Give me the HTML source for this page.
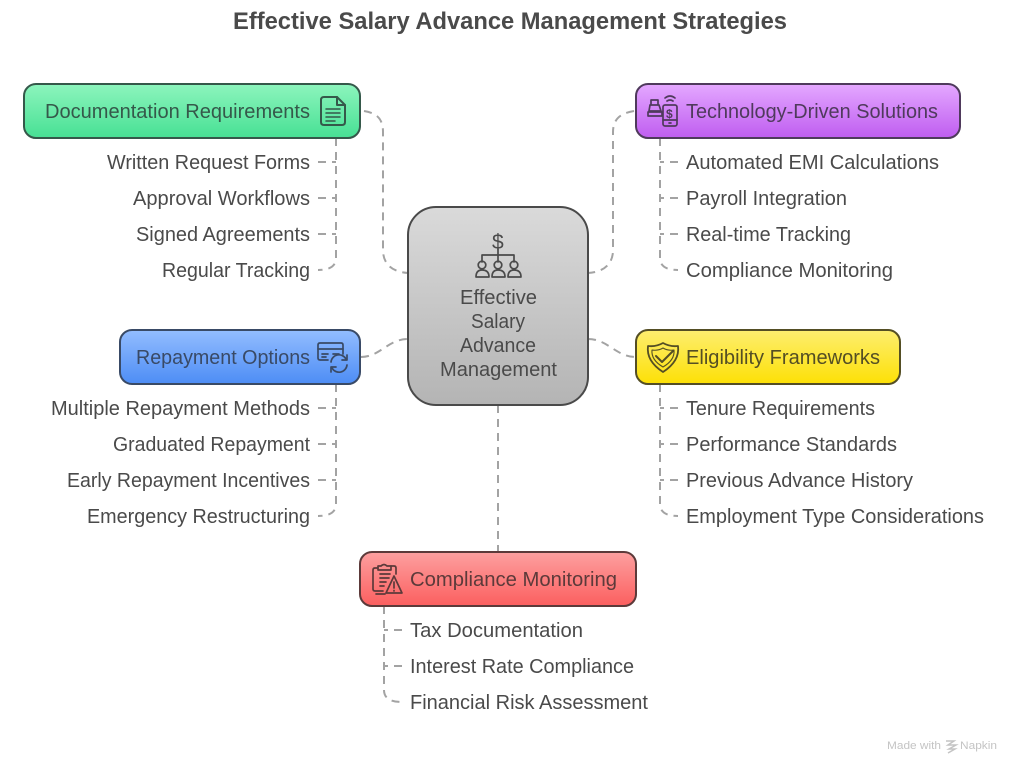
<!DOCTYPE html>
<html>
<head>
<meta charset="utf-8">
<style>
html,body{margin:0;padding:0;background:#fff;width:1020px;height:772px;overflow:hidden}
svg{display:block}
text{font-family:"Liberation Sans",sans-serif;font-size:20px;fill:#4a4a4a}
.c{fill:none;stroke:#a3a3a3;stroke-width:2;stroke-dasharray:8 6}
.i{fill:none;stroke-width:2;stroke-linejoin:round;stroke-linecap:round}
</style>
</head>
<body>
<svg width="1020" height="772" viewBox="0 0 1020 772" xmlns="http://www.w3.org/2000/svg">
<defs>
<linearGradient id="gg" x1="0" y1="0" x2="0" y2="1"><stop offset="0" stop-color="#8df5bd"/><stop offset="1" stop-color="#47e094"/></linearGradient>
<linearGradient id="gp" x1="0" y1="0" x2="0" y2="1"><stop offset="0" stop-color="#e4a8ff"/><stop offset="1" stop-color="#bf5df0"/></linearGradient>
<linearGradient id="gb" x1="0" y1="0" x2="0" y2="1"><stop offset="0" stop-color="#93bdff"/><stop offset="1" stop-color="#4d8df5"/></linearGradient>
<linearGradient id="gy" x1="0" y1="0" x2="0" y2="1"><stop offset="0" stop-color="#fdee70"/><stop offset="1" stop-color="#fde005"/></linearGradient>
<linearGradient id="gr" x1="0" y1="0" x2="0" y2="1"><stop offset="0" stop-color="#fda0a0"/><stop offset="1" stop-color="#fb5f5f"/></linearGradient>
<linearGradient id="gc" x1="0" y1="0" x2="0" y2="1"><stop offset="0" stop-color="#dadada"/><stop offset="1" stop-color="#b4b4b4"/></linearGradient>
</defs>

<text x="233" y="29" font-weight="700" style="font-size:24px;font-weight:700" textLength="554" lengthAdjust="spacingAndGlyphs">Effective Salary Advance Management Strategies</text>

<!-- center connectors -->
<path class="c" d="M364 111 C376 113 383 118 383 132 V250 C383 264 392 272 408 273"/>
<path class="c" d="M634 111 C622 113 613 118 613 132 V250 C613 264 604 272 588 273"/>
<path class="c" d="M361 357 C380 357 388 339 408 339"/>
<path class="c" d="M588 339 C608 339 616 357 636 357"/>
<path class="c" d="M498 405 V552"/>

<!-- branch connectors -->
<path class="c" d="M336 138 V258 Q336 270 318 270"/>
<path class="c" d="M318 162 H336 M318 198 H336 M318 234 H336"/>
<path class="c" d="M660 138 V258 Q660 270 678 270"/>
<path class="c" d="M678 162 H660 M678 198 H660 M678 234 H660"/>
<path class="c" d="M336 384 V504 Q336 516 318 516"/>
<path class="c" d="M318 408 H336 M318 444 H336 M318 480 H336"/>
<path class="c" d="M660 384 V504 Q660 516 678 516"/>
<path class="c" d="M678 408 H660 M678 444 H660 M678 480 H660"/>
<path class="c" d="M384 606 V690 Q384 702 402 702"/>
<path class="c" d="M402 630 H384 M402 666 H384"/>

<!-- nodes -->
<rect x="24" y="84" width="336" height="54" rx="12" fill="url(#gg)" stroke="#35584a" stroke-width="2"/>
<rect x="636" y="84" width="324" height="54" rx="12" fill="url(#gp)" stroke="#4f3a5c" stroke-width="2"/>
<rect x="120" y="330" width="240" height="54" rx="12" fill="url(#gb)" stroke="#394a66" stroke-width="2"/>
<rect x="636" y="330" width="264" height="54" rx="12" fill="url(#gy)" stroke="#544e24" stroke-width="2"/>
<rect x="360" y="552" width="276" height="54" rx="12" fill="url(#gr)" stroke="#5c3a3a" stroke-width="2"/>
<rect x="408" y="207" width="180" height="198" rx="28" fill="url(#gc)" stroke="#4a4a4a" stroke-width="2"/>

<!-- node titles -->
<text x="45" y="118" style="fill:#35584a" textLength="265" lengthAdjust="spacingAndGlyphs">Documentation Requirements</text>
<text x="686" y="118" style="fill:#4f3a5c" textLength="252" lengthAdjust="spacingAndGlyphs">Technology-Driven Solutions</text>
<text x="136" y="364" style="fill:#394a66" textLength="174" lengthAdjust="spacingAndGlyphs">Repayment Options</text>
<text x="686" y="364" style="fill:#544e24" textLength="194" lengthAdjust="spacingAndGlyphs">Eligibility Frameworks</text>
<text x="410" y="586" style="fill:#5c3a3a" textLength="207" lengthAdjust="spacingAndGlyphs">Compliance Monitoring</text>

<!-- center text -->
<text x="460" y="304" textLength="77" lengthAdjust="spacingAndGlyphs">Effective</text>
<text x="471" y="328" textLength="54" lengthAdjust="spacingAndGlyphs">Salary</text>
<text x="460" y="352" textLength="76" lengthAdjust="spacingAndGlyphs">Advance</text>
<text x="440" y="376" textLength="117" lengthAdjust="spacingAndGlyphs">Management</text>

<!-- items left -->
<text x="107" y="169" textLength="203" lengthAdjust="spacingAndGlyphs">Written Request Forms</text>
<text x="133" y="205" textLength="177" lengthAdjust="spacingAndGlyphs">Approval Workflows</text>
<text x="136" y="241" textLength="174" lengthAdjust="spacingAndGlyphs">Signed Agreements</text>
<text x="162" y="277" textLength="148" lengthAdjust="spacingAndGlyphs">Regular Tracking</text>
<text x="51" y="415" textLength="259" lengthAdjust="spacingAndGlyphs">Multiple Repayment Methods</text>
<text x="113" y="451" textLength="197" lengthAdjust="spacingAndGlyphs">Graduated Repayment</text>
<text x="67" y="487" textLength="243" lengthAdjust="spacingAndGlyphs">Early Repayment Incentives</text>
<text x="87" y="523" textLength="223" lengthAdjust="spacingAndGlyphs">Emergency Restructuring</text>

<!-- items right -->
<text x="686" y="169" textLength="253" lengthAdjust="spacingAndGlyphs">Automated EMI Calculations</text>
<text x="686" y="205" textLength="161" lengthAdjust="spacingAndGlyphs">Payroll Integration</text>
<text x="686" y="241" textLength="165" lengthAdjust="spacingAndGlyphs">Real-time Tracking</text>
<text x="686" y="277" textLength="207" lengthAdjust="spacingAndGlyphs">Compliance Monitoring</text>
<text x="686" y="415" textLength="189" lengthAdjust="spacingAndGlyphs">Tenure Requirements</text>
<text x="686" y="451" textLength="211" lengthAdjust="spacingAndGlyphs">Performance Standards</text>
<text x="686" y="487" textLength="227" lengthAdjust="spacingAndGlyphs">Previous Advance History</text>
<text x="686" y="523" textLength="298" lengthAdjust="spacingAndGlyphs">Employment Type Considerations</text>

<!-- items bottom -->
<text x="410" y="637" textLength="173" lengthAdjust="spacingAndGlyphs">Tax Documentation</text>
<text x="410" y="673" textLength="224" lengthAdjust="spacingAndGlyphs">Interest Rate Compliance</text>
<text x="410" y="709" textLength="238" lengthAdjust="spacingAndGlyphs">Financial Risk Assessment</text>

<!-- doc icon -->
<g class="i" stroke="#35584a">
<path d="M324 97 H337 L345 105 V122 Q345 125 342 125 H324 Q321 125 321 122 V100 Q321 97 324 97 Z"/>
<path d="M337 97 V105 H345"/>
<path d="M326 109 H340 M326 113 H340 M326 117 H340 M326 121 H335" style="stroke-width:1.5"/>
</g>

<!-- tech icon -->
<g class="i" stroke="#4f3a5c" style="stroke-width:1.7">
<rect x="663" y="105" width="14" height="21" rx="2"/>
<path d="M663 120 H677 M669 123 H671"/>
<path d="M651 100 H658 V105 H651 Z M650 105 H659 L661 111 H649 Z M648 112 H662 V116 H648 Z"/>
<path d="M667 101 Q670 99 673 101 M665 98 Q670 94 675 98"/>
</g>
<text x="666" y="118" style="font-size:12px;font-weight:700;fill:#4f3a5c">$</text>

<!-- repayment icon -->
<g class="i" stroke="#394a66" style="stroke-width:1.7">
<path d="M343 354 V345 Q343 343 341 343 H320 Q318 343 318 345 V358 Q318 360 320 360 H328"/>
<path d="M318 349 H343 M322 354 H328 M322 357 H326 M333 354 H339"/>
<path d="M331 362 A8 8 0 0 1 346 359 M347 365 A8 8 0 0 1 332 368"/>
<path d="M347 355 V360 H342 M331 372 V367 H336"/>
</g>

<!-- shield icon -->
<g class="i" stroke="#544e24">
<path d="M663 343 Q670 347 678 346 Q680 361 663 372 Q646 361 648 346 Q656 347 663 343 Z" style="stroke-width:1.8"/>
<path d="M663 348 Q668 351 674 350 Q675 360 663 367 Q651 360 652 350 Q658 351 663 348 Z" style="stroke-width:1.1"/>
<path d="M656 356 L662 362 L673 351"/>
</g>

<!-- compliance icon -->
<g class="i" stroke="#5c3a3a" style="stroke-width:1.7">
<path d="M383 591 H375 Q373 591 373 589 V570 Q373 568 375 568 H378"/>
<path d="M376 594 H385 M396 574 V568 Q396 566 394 566 H391"/>
<path d="M378 570 V566 H381 Q384 563 387 566 H391 V570 Z"/>
<path d="M380 574 H390 M380 578 H389 M380 582 H386 M380 586 H384"/>
<path d="M394 576 L402 593 H386 Z M394 582 V588 M394 590.5 V591"/>
</g>

<!-- center icon -->
<g class="i" stroke="#4a4a4a" style="stroke-width:1.7">
<path d="M498 249 V255 M482 262 V255 H514 V262 M498 255 V262"/>
<circle cx="482" cy="265" r="3.8"/><circle cx="498" cy="265" r="3.8"/><circle cx="514" cy="265" r="3.8"/>
<path d="M476 277 Q476 270 482 270 Q489 270 489 277 Z M492 277 Q492 270 498 270 Q505 270 505 277 Z M508 277 Q508 270 514 270 Q521 270 521 277 Z"/>
</g>
<text x="492" y="249" style="font-size:21px;fill:#4a4a4a">$</text>

<!-- watermark -->
<text x="887" y="749" style="font-size:11px;fill:#c4c4c4" textLength="54" lengthAdjust="spacingAndGlyphs">Made with</text>
<path d="M946 741 H954 L948 745 H956 L949 749 H955 L948 753" fill="none" stroke="#c4c4c4" stroke-width="1.5"/>
<text x="960" y="749" style="font-size:11px;fill:#c4c4c4" textLength="37" lengthAdjust="spacingAndGlyphs">Napkin</text>
</svg>
</body>
</html>
